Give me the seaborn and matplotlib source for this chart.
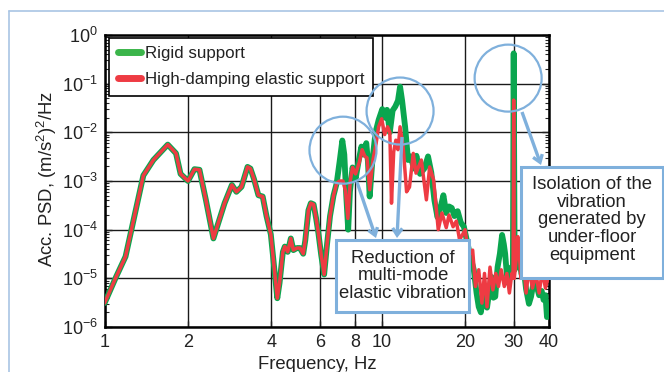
import matplotlib
matplotlib.use("Agg")
import matplotlib.pyplot as plt
import matplotlib.patches as mpatches
import matplotlib.transforms as mtransforms
from matplotlib.lines import Line2D
from matplotlib.ticker import FixedLocator, NullLocator, LogLocator, NullFormatter
import pandas as pd
import seaborn as sns

# ---------------- data ----------------
series_names = ["Rigid support", "High-damping elastic support"]

# part common to both curves (1 - 6.9 Hz)
common_freq = [1.00, 1.10, 1.19, 1.38, 1.50, 1.69, 1.81, 1.88, 2.00, 2.11, 2.20, 2.32,
               2.47, 2.71, 2.88, 2.99, 3.12, 3.28, 3.36, 3.46, 3.59, 3.72, 3.84, 3.98,
               4.08, 4.20, 4.28, 4.40, 4.47, 4.58, 4.70, 4.80, 4.95, 5.07, 5.21, 5.30,
               5.44, 5.55, 5.68, 5.80, 5.91, 6.05, 6.20, 6.35, 6.51, 6.70, 6.88]
common_psd = [3.1e-6, 1.07e-5, 2.8e-5, 1.3e-3, 2.7e-3, 5.6e-3, 3.7e-3, 1.4e-3, 1.0e-3, 1.75e-3,
              1.7e-3, 4.1e-4, 6.6e-5, 3.5e-4, 8.3e-4, 6.0e-4, 7.6e-4, 1.95e-3, 1.8e-3, 1.1e-3,
              5.1e-4, 4.8e-4, 1.9e-4, 8.0e-5, 2.0e-5, 3.9e-6, 8.0e-6, 3.5e-5, 4.5e-5, 3.5e-5,
              6.6e-5, 3.8e-5, 4.2e-5, 4.2e-5, 3.2e-5, 6.0e-5, 2.5e-4, 3.5e-4, 3.3e-4, 1.7e-4,
              8.5e-5, 3.0e-5, 1.2e-5, 5.0e-5, 1.9e-4, 5.0e-4, 9.0e-4]

rigid_freq = [7.05, 7.21, 7.33, 7.45, 7.57, 7.68, 7.85, 8.05, 8.25, 8.45, 8.60, 8.80, 8.92,
              9.05, 9.25, 9.50, 9.75, 10.05, 10.25, 10.45, 10.70, 10.95, 11.20, 11.45, 11.65,
              11.85, 12.15, 12.45, 12.75, 13.05, 13.35, 13.75, 14.25, 14.70, 15.10, 15.50,
              15.90, 16.30, 16.70, 17.10, 17.50, 17.90, 18.30, 18.80, 19.30, 19.80, 20.30,
              20.90, 21.50, 22.00, 22.40, 22.80, 23.20, 23.60, 24.00, 24.50, 24.90, 25.30,
              25.70, 26.20, 26.70, 27.20, 27.60, 27.90, 28.30, 28.60, 29.00, 29.40, 29.75,
              29.95, 30.20, 30.70, 31.30, 32.00, 32.50, 33.20, 34.00, 34.60, 35.30, 36.30,
              37.00, 37.80, 38.40, 39.00, 39.50, 40.00]
rigid_psd = [2.5e-3, 6.8e-3, 3.5e-3, 5.0e-4, 1.0e-4, 6.0e-4, 1.9e-3, 1.1e-3, 2.5e-3, 5.1e-3,
             3.5e-3, 6.0e-3, 2.5e-3, 4.8e-4, 2.5e-3, 1.0e-2, 1.8e-2, 3.0e-2, 2.0e-2, 2.9e-2,
             1.0e-2, 2.8e-2, 3.4e-2, 4.5e-2, 8.7e-2, 4.5e-2, 1.3e-2, 2.7e-3, 3.2e-3, 1.8e-3,
             3.3e-3, 1.4e-3, 1.8e-3, 3.2e-3, 1.5e-3, 4.0e-4, 1.8e-4, 2.8e-4, 5.1e-4, 2.2e-4,
             3.0e-4, 2.8e-4, 1.9e-4, 2.4e-4, 1.4e-4, 1.15e-4, 6.0e-5, 2.8e-5, 1.5e-5, 5.0e-6,
             2.6e-6, 2.0e-6, 4.0e-6, 5.8e-6, 2.5e-6, 6.0e-6, 1.07e-5, 4.0e-6, 4.2e-6, 1.7e-5,
             3.2e-5, 7.8e-5, 5.0e-5, 3.2e-5, 1.2e-5, 8.0e-6, 1.5e-5, 1.7e-5, 1.2e-5, 4.2e-1,
             1.5e-5, 2.4e-5, 2.4e-5, 1.2e-5, 1.7e-5, 6.0e-6, 3.0e-6, 4.2e-6, 8.0e-6, 6.8e-6,
             4.5e-6, 5.5e-6, 3.6e-6, 4.5e-6, 1.6e-6, 2.5e-6]

elastic_freq = [7.05, 7.25, 7.40, 7.55, 7.70, 7.85, 8.05, 8.30, 8.50, 8.70, 8.85, 9.05, 9.30,
                9.55, 9.75, 10.00, 10.25, 10.50, 10.70, 10.85, 11.05, 11.25, 11.45, 11.65,
                11.95, 12.30, 12.60, 13.00, 13.30, 13.90, 14.50, 14.90, 15.40, 16.00, 16.50,
                17.10, 17.50, 18.10, 18.60, 19.10, 19.60, 20.00, 20.40, 20.80, 21.30, 21.80,
                22.40, 23.00, 23.50, 24.00, 24.60, 25.20, 25.80, 26.40, 27.00, 27.70, 28.30,
                28.90, 29.50, 29.80, 29.95, 30.10, 30.60, 31.00, 31.40, 31.80, 32.50, 33.20,
                34.00, 35.00, 36.00, 37.00, 38.00, 39.00, 40.00]
elastic_psd = [1.0e-3, 1.0e-3, 6.3e-4, 1.7e-4, 1.0e-3, 1.9e-3, 1.4e-3, 2.4e-3, 4.4e-3, 3.2e-3,
               3.0e-3, 6.6e-4, 2.7e-3, 6.0e-3, 1.3e-2, 1.9e-2, 9.0e-3, 1.3e-2, 1.0e-2, 3.5e-4,
               4.0e-3, 6.9e-3, 4.4e-3, 1.3e-2, 5.1e-3, 6.0e-4, 7.5e-4, 3.7e-3, 1.45e-3, 2.7e-3,
               4.1e-4, 1.95e-3, 1.05e-3, 1.0e-4, 2.2e-4, 1.1e-4, 2.0e-4, 1.15e-4, 1.5e-4, 6.2e-5,
               8.0e-5, 1.0e-4, 4.5e-5, 3.2e-5, 3.8e-5, 6.8e-6, 1.5e-5, 3.1e-6, 1.26e-5, 2.6e-6,
               1.7e-5, 5.8e-6, 1.26e-5, 6.8e-6, 1.5e-5, 6.8e-6, 1.26e-5, 5.0e-6, 1.26e-5, 1.0e-5,
               4.6e-2, 1.0e-5, 2.5e-5, 7.2e-5, 3.0e-5, 1.0e-5, 2.5e-5, 5.0e-6, 1.6e-5, 6.3e-6,
               1.26e-5, 5.0e-6, 1.4e-5, 6.3e-6, 1.1e-5]

x_ticks = [1, 2, 4, 6, 8, 10, 20, 30, 40]
x_tick_labels = ["1", "2", "4", "6", "8", "10", "20", "30", "40"]
y_ticks = [1e-6, 1e-5, 1e-4, 1e-3, 1e-2, 1e-1, 1e0]
y_tick_labels = ["$10^{-6}$", "$10^{-5}$", "$10^{-4}$", "$10^{-3}$", "$10^{-2}$", "$10^{-1}$", "$10^{0}$"]

df = pd.concat([
    pd.DataFrame({"freq": common_freq + rigid_freq, "psd": common_psd + rigid_psd,
                  "series": series_names[0]}),
    pd.DataFrame({"freq": common_freq + elastic_freq, "psd": common_psd + elastic_psd,
                  "series": series_names[1]}),
], ignore_index=True)

# ---------------- style ----------------
sns.set_style("white")
plt.rcParams["font.family"] = ["Liberation Sans", "DejaVu Sans"]
plt.rcParams["mathtext.default"] = "regular"
TXT = "#222222"
GREEN = "#0aa64f"
GREEN_LEG = "#3bb54a"
RED = "#ee3b43"
BLUE = "#7fb0dc"
W, H = 664, 372

def fx(px):
    return px / W

def fy(py):
    return 1 - py / H

fig = plt.figure(figsize=(6.64, 3.72), dpi=100)
ax = fig.add_axes([fx(104.6), fy(327), (548.5 - 104.6) / W, (327 - 35) / H])
ax.set_xscale("log")
ax.set_yscale("log")

sns.lineplot(data=df[df.series == series_names[0]], x="freq", y="psd", color=GREEN,
             lw=4.2, estimator=None, sort=False, ax=ax, legend=False, zorder=3)
sns.lineplot(data=df[df.series == series_names[1]], x="freq", y="psd", color=RED,
             lw=2.5, estimator=None, sort=False, ax=ax, legend=False, zorder=4)

ax.set_xlim(1, 40)
ax.set_ylim(1e-6, 1)
ax.xaxis.set_major_locator(FixedLocator(x_ticks))
ax.set_xticklabels(x_tick_labels)
ax.xaxis.set_minor_locator(NullLocator())
ax.yaxis.set_major_locator(FixedLocator(y_ticks))
ax.set_yticklabels(y_tick_labels)
ax.yaxis.set_minor_locator(LogLocator(base=10, subs=[2, 3, 4, 5, 6, 7, 8, 9], numticks=20))
ax.yaxis.set_minor_formatter(NullFormatter())
ax.tick_params(axis="both", which="major", labelsize=13, colors=TXT, direction="in",
               length=5, width=1, pad=5)
ax.tick_params(axis="y", which="both", left=True, right=True, direction="in")
ax.tick_params(axis="y", which="minor", length=3, width=0.8)
ax.tick_params(axis="x", which="major", bottom=True, length=4)
for lbl in ax.get_xticklabels() + ax.get_yticklabels():
    lbl.set_color(TXT)
ax.grid(True, which="major", color="#1a1a1a", lw=1.0)
ax.set_axisbelow(True)
for s in ax.spines.values():
    s.set_color("black")
    s.set_linewidth(1.8)
ax.set_xlabel("")
ax.set_ylabel("")

fig.text(fx(47), fy(179), "Acc. PSD, (m/s$^2$)$^2$/Hz", rotation=90, ha="center",
         va="center", fontsize=13.3, color=TXT)
fig.text(fx(317), fy(356), "Frequency, Hz", ha="center", va="top", fontsize=13.3, color=TXT)

# legend
handles = [Line2D([], [], color=GREEN_LEG, lw=5), Line2D([], [], color=RED, lw=5)]
leg = ax.legend(handles, series_names, loc="upper left", bbox_to_anchor=(0.01, 0.99),
                borderaxespad=0, frameon=True, fancybox=False, edgecolor="black",
                framealpha=1, handlelength=1.4, handletextpad=0.25, labelspacing=0.64,
                borderpad=0.5, fontsize=12.2)
leg.get_frame().set_linewidth(1.2)
for t in leg.get_texts():
    t.set_color(TXT)
leg.set_zorder(6)

# circles (centered on data positions, round in display)
circle_centers = [(7.25, 4.3e-3), (11.65, 2.74e-2), (28.6, 1.3e-1)]
for (cf, cp) in circle_centers:
    tr = fig.dpi_scale_trans + mtransforms.ScaledTranslation(cf, cp, ax.transData)
    fig.add_artist(mpatches.Circle((0, 0), radius=0.335, transform=tr, fill=False,
                                   ec=BLUE, lw=1.6, zorder=7))

# arrows (figure pixels, y from top)
arrows = [((357, 182), (376, 238)), ((402, 137), (397, 238)), ((522, 112), (541, 165))]
for (x0, y0), (x1, y1) in arrows:
    fig.add_artist(mpatches.FancyArrowPatch((fx(x0), fy(y0)), (fx(x1), fy(y1)),
                   transform=fig.transFigure, arrowstyle="->,head_length=5,head_width=3.5",
                   color=BLUE, lw=2.4, shrinkA=0, shrinkB=0, zorder=7,
                   joinstyle="miter", capstyle="butt"))

# text boxes
boxes = [((336, 240, 469, 312), "Reduction of\nmulti-mode\nelastic vibration", 403, 276),
         ((521, 167, 663, 278), "Isolation of the\nvibration\ngenerated by\nunder-floor\nequipment",
          592, 220)]
for (x0, y0, x1, y1), txt, tx, ty in boxes:
    fig.add_artist(mpatches.Rectangle((fx(x0), fy(y1)), (x1 - x0) / W, (y1 - y0) / H,
                                      transform=fig.transFigure, fc="white", ec=BLUE,
                                      lw=2.2, zorder=8))
    fig.text(fx(tx), fy(ty), txt, ha="center", va="center", fontsize=13.3, color=TXT,
             linespacing=1.05, zorder=9)

# outer light-blue frame
fig.add_artist(Line2D([fx(8.5), fx(8.5)], [0, fy(10.7)], transform=fig.transFigure,
                      color="#a9c5e4", lw=1.2))
fig.add_artist(Line2D([fx(8.5), 1], [fy(10.7), fy(10.7)], transform=fig.transFigure,
                      color="#a9c5e4", lw=1.2))

fig.savefig("out.png", dpi=100)
